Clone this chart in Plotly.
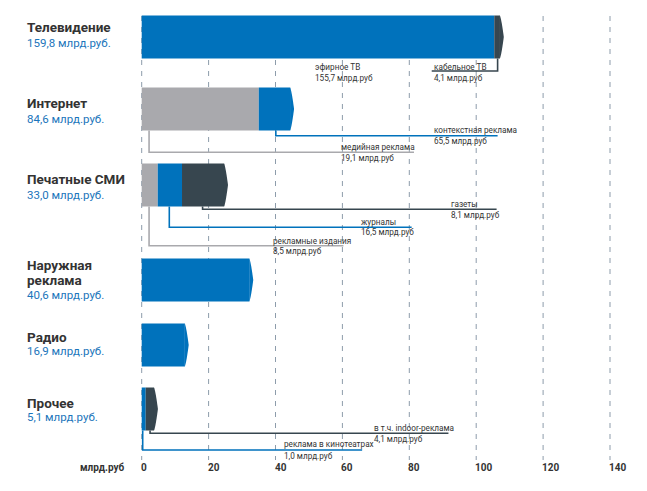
import numpy as np
import plotly.graph_objects as go

# ---------------- data ----------------
categories = ["Телевидение", "Интернет", "Печатные СМИ", "Наружная<br>реклама", "Радио", "Прочее"]
totals = ["159,8", "84,6", "33,0", "40,6", "16,9", "5,1"]

# segment lengths
seg_tv = [105.4, 1.7]
seg_internet = [35.0, 9.4]
seg_print = [4.8, 7.25, 12.6]
seg_outdoor = [32.2]
seg_radio = [12.9]
seg_other = [1.2, 2.5]

sub_names = ["эфирное ТВ", "кабельное ТВ", "контекстная реклама", "медийная реклама",
             "газеты", "журналы", "рекламные издания",
             "в т.ч. indoor-реклама", "реклама в кинотеатрах"]
sub_values = ["155,7", "4,1", "65,5", "19,1", "8,1", "16,5", "8,5", "4,1", "1,0"]

tick_values = [0, 20, 40, 60, 80, 100, 120, 140]
tick_labels = ["0", "20", "40", "60", "80", "100", "120", "140"]
unit_label = "млрд.руб"

# ---------------- styles / layout ----------------
BLUE = "#0072bc"
GRAY = "#a9a9ad"
DARK = "#37464f"
TXT = "#333333"
VBLUE = "#1b75bb"
GRID = "#8d9cab"

seg_colors = [[BLUE, DARK], [GRAY, BLUE], [GRAY, BLUE, DARK], [BLUE], [BLUE], [BLUE, DARK]]
segments = [seg_tv, seg_internet, seg_print, seg_outdoor, seg_radio, seg_other]

W, H = 647, 491
X0PX, PXU = 141.7, 3.345
xr = [-X0PX / PXU, (W - X0PX) / PXU]

row_c = [37, 109, 185, 280, 345, 409]
bar_h = 43
tip = 1.2
title_y = [[27], [103], [179], [265, 280], [337], [402.5]]
value_y = [43, 118.5, 194.5, 294.5, 351, 417]

# callouts: (sub index, color, anchor x, line y, end x, text x, text y top/bottom)
callouts = [
    (0, None, None, None, None, 51.1, 66.5, 77.5),
    (1, DARK, 106.4, 71, 86.7, 86.7, 66.5, 77.5),
    (2, BLUE, 40.1, 135.7, 106.4, 86.7, 129.5, 140.5),
    (3, GRAY, 2.2, 152.3, 81.4, 59.1, 146.5, 157.5),
    (4, DARK, 18.2, 209.3, 106.1, 91.9, 203.5, 214.5),
    (5, BLUE, 8.25, 227.3, 80.7, 64.9, 221.5, 232),
    (6, GRAY, 2.2, 245.7, 60.3, 38.6, 240.5, 251),
    (7, DARK, 2.5, 433.3, 91.7, 68.9, 428, 439),
    (8, BLUE, 0.3, 450, 65.9, 42.0, 444, 455.5),
]

fig = go.Figure()

# bars
for r, (segs, cols) in enumerate(zip(segments, seg_colors)):
    start = 0.0
    for length, col in zip(segs, cols):
        fig.add_trace(go.Bar(x=[length], base=[start], y=[row_c[r]], orientation="h",
                             width=bar_h, marker=dict(color=col, line=dict(width=0)),
                             showlegend=False, hoverinfo="skip"))
        start += length
    # arrow tip (slightly convex chevron)
    u = np.linspace(-1, 1, 41)
    xs = start - 0.05 + tip * (1 - np.abs(u)) ** 0.7
    ys = row_c[r] + u * bar_h / 2
    xs = np.concatenate([[start - 0.05], xs, [start - 0.05]])
    ys = np.concatenate([[row_c[r] - bar_h / 2], ys, [row_c[r] + bar_h / 2]])
    fig.add_trace(go.Scatter(x=xs, y=ys, fill="toself", fillcolor=cols[-1], mode="none",
                             showlegend=False, hoverinfo="skip"))

# callout lines + labels
CF = "Roboto"
for (i, col, ax, ly, ex, tx, ty1, ty2) in callouts:
    if col is not None:
        rr = [k for k in range(6) if row_c[k] - bar_h / 2 < ly][-1]
        bottom = row_c[rr] + bar_h / 2
        fig.add_trace(go.Scatter(x=[ax, ax, ex], y=[bottom, ly, ly], mode="lines",
                                 line=dict(color=col, width=1.6), showlegend=False,
                                 hoverinfo="skip"))
    fig.add_annotation(x=tx, y=ty1, text=sub_names[i], showarrow=False, xanchor="left",
                       yanchor="middle", font=dict(family=CF, size=8.2, color=TXT))
    fig.add_annotation(x=tx, y=ty2, text=sub_values[i] + " млрд.руб", showarrow=False,
                       xanchor="left", yanchor="middle", font=dict(family=CF, size=8.2, color=TXT))

# left titles
for r in range(6):
    parts = categories[r].split("<br>")
    for p, yy in zip(parts, title_y[r]):
        fig.add_annotation(x=25 / W, xref="paper", y=yy, text="<b>" + p + "</b>", showarrow=False,
                           xanchor="left", yanchor="middle",
                           font=dict(family="Roboto", size=13.5, color=TXT))
    fig.add_annotation(x=25 / W, xref="paper", y=value_y[r], text=totals[r] + " млрд.руб.",
                       showarrow=False, xanchor="left", yanchor="middle",
                       font=dict(family="Roboto", size=11.5, color=VBLUE))

# grid lines
for v in tick_values:
    fig.add_shape(type="line", x0=v, x1=v, y0=16, y1=460, layer="below",
                  line=dict(color=GRID, width=1, dash="5px,6px"))

# tick labels
for v, lab in zip(tick_values, tick_labels):
    fig.add_annotation(x=v, y=467.5, text="<b>" + lab + "</b>", showarrow=False,
                       xanchor="left", yanchor="middle", xshift=-3,
                       font=dict(family="Roboto", size=10, color=TXT))
fig.add_annotation(x=127 / W, xref="paper", y=467.5, text="<b>" + unit_label + "</b>",
                   showarrow=False, xanchor="right", yanchor="middle",
                   font=dict(family="Roboto", size=10, color=TXT))

fig.update_layout(
    width=W, height=H, autosize=False,
    margin=dict(l=0, r=0, t=0, b=0),
    paper_bgcolor="white", plot_bgcolor="white",
    barmode="overlay",
    xaxis=dict(range=xr, visible=False, fixedrange=True),
    yaxis=dict(range=[H, 0], visible=False, fixedrange=True),
    showlegend=False,
)

fig.write_html("out.html")
